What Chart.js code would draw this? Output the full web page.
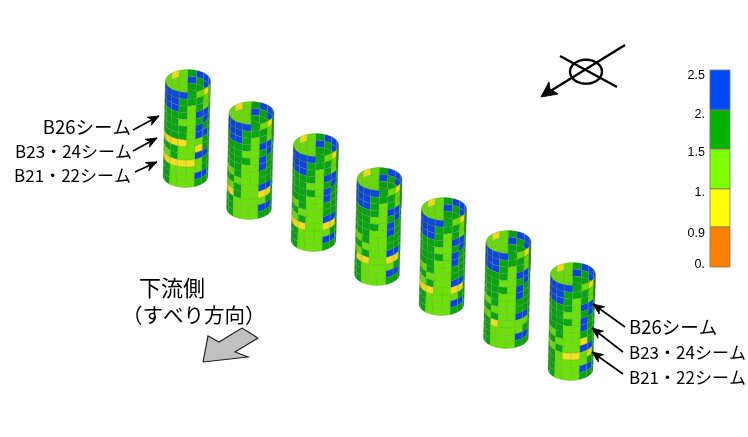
<!DOCTYPE html>
<html>
<head>
<meta charset="utf-8">
<style>html,body{margin:0;padding:0;background:#fff}canvas{display:block;filter:blur(.45px)}</style>
<script src="https://cdn.jsdelivr.net/npm/chart.js@4/dist/chart.umd.min.js"></script>
</head>
<body>
<canvas id="c" width="748" height="437"></canvas>
<script>
// colour bar
const scaleTicks = ['2.5','2.','1.5','1.','0.9','0.'];
const scaleBreaks = [2.5,2,1.5,1,0.9,0];
const scaleColors = ['#0048f8','#00b400','#7cff00','#ffff00','#ff8000'];
const wallColors = {2.25:'#0a48e6',1.75:'#06a812',1.25:'#68e404',0.95:'#f4e41c',0.5:'#ff8000'};
const letterValue = {B:2.25,G:1.75,L:1.25,Y:0.95,O:0.5};

// safety-factor class of each wall cell, seen from the front (top row first, left to right)
const pile1 = ['BBBBGLYL','BBBGGGLL','BBBGLGLL','GGGGLBBG','GGGLLGBG','GGGGLBGG','GGGGLBBG','YYYYLLGG','GGGLLYGG','LLGLLBBG','YYYYYLGG','GGLLLLGG','GGLLLBBG','GGLLLGGG'];
const pile2 = ['BBBBGLYG','BBBGGGLG','GBBGLGLG','GGGGLBBG','GGGLLGBG','GGGGLBGG','GGGLLBGG','LLGLLGGG','GGLLLGGG','LLGLLBBG','YYGLLYYG','GGLLLLGG','GGLLLBBG','GGLLLGGG'];
const pile3 = ['BBBBGLYG','BBBGGGLG','BBBGLGLG','GGGGLBBG','GGGLLGBG','GGGGLBGG','GGGLLBGG','LLGLLGGG','GGLLLGGG','LLGLLBBG','YYYLLYYG','GGLLLLGG','GGLLLBBG','GGLLLGGG'];
const pile4 = ['BBBBGLYG','BBBGGGLG','BBBGLGLG','GGGGLBBG','GGGLLGBG','GGGGLBGG','GGGLLBGG','LLGLLGGG','GGLLLGGG','LLGLLBBG','GYYLLYYG','GGLLLLGG','GGLLLBBG','GGLLLGGG'];
const pile5 = ['BBBBGLYG','BBBGGGLG','BBBGLGLG','GGGGLBBG','GGGLLGBG','GGGGLBGG','GGGLLBGG','LLGLLGGG','GGLLLGGG','LLGLLBBG','YYYLLYYG','GGLLLLGG','GGLLLBBG','GGLLLGGG'];
const pile6 = ['BBBBGLYG','BBBGGGLG','BBBGLGLG','GGGGLBBG','GGGLLGBG','GGGGLBGG','GGGLLBGG','LLGLLGGG','GGLLLGGG','LLGLLBBG','GGYLLLLG','GGLLLLGG','GGLLLBBG','GGLLLGGG'];
const pile7 = ['BBBBGLYG','BBBGGGLG','BBBGLGLG','GGGGLBBG','GGGLLGBG','GGGGLBGG','GGGLLBGG','LLGLLGGG','GGLLLYGG','LLGLLBBG','GGLYYLYG','GGLLLLGG','GGLLLBBG','GGLLLGGG'];
const piles = [pile1,pile2,pile3,pile4,pile5,pile6,pile7];
// inside of the far wall (top rows only are visible)
const farWall = ['LLYLGBBB','LLLLBGBB','LLLLGGGB','LLLLGGGB'];

// placement
const pileTops = [[188,81],[251.5,113],[316,145],[379.5,179],[444,209],[508.5,242],[573,274]];
const pileRx = 22.5, pileRy = 11.5, pileH = 95, pileLean = -2.5;

const labelsSeam = ['B26シーム','B23・24シーム','B21・22シーム'];
const labelSizes = [18.5,17,17];
const leftLabels = [[131,127],[132,152],[131,176]];
const rightLabels = [[629,327],[629,353],[629,378]];
const leftArrows = [[[133,130],[159,116]],[[133,151],[157,138]],[[135,172],[157,162]]];
const rightArrows = [[[625,327],[593,304]],[[623,352],[592,328]],[[623,374],[592,352]]];
const slipArrow = [[203,362],[208,336],[219,342],[242,328],[258,338],[235,352],[248,357],[203,362]];
const compassCentre = [586,71.7], compassRadii = [16,12];
const compassArrow = [[[625,45],[544,95]],[[560,56],[617,87]]];
const compassHead = [[541,97],[549,82],[550,89],[558,94],[541,97]];
const barX = [710,730];
const barY = {2.5:70,2:110,1.5:149,1:189,0.9:227,0:267};
const tickY = [76,115,153,193,234,265];

function shade(hex,f){
  const n=parseInt(hex.slice(1),16);
  return 'rgb('+[n>>16&255,n>>8&255,n&255].map(v=>Math.round(v*f)).join(',')+')';
}
function wallPt(pos,th,row){
  const t=row/14;
  return {x:pos[0]+pileLean*t-pileRx*Math.cos(th), y:pos[1]+pileH*t+pileRy*Math.sin(th)};
}
const exact=1e-4; // tiny tension keeps the line element from merging nearby points
function cell(pos,th0,th1,r0,r1,color){
  const n=4,pts=[];
  for(let i=0;i<=n;i++) pts.push(wallPt(pos,th0+(th1-th0)*i/n,r0));
  for(let i=n;i>=0;i--) pts.push(wallPt(pos,th0+(th1-th0)*i/n,r1));
  pts.push(pts[0]);
  return {data:pts,showLine:true,fill:'shape',backgroundColor:color,borderColor:'rgba(125,130,80,.5)',borderWidth:.5,pointRadius:0,tension:exact};
}
function stroke(pts,w,col,fillCol){
  return {data:pts.map(p=>({x:p[0],y:p[1]})),showLine:true,fill:fillCol?'shape':false,backgroundColor:fillCol||'transparent',borderColor:col,borderWidth:w,pointRadius:0,tension:exact};
}
function head(a,b,len,wid){
  const dx=b[0]-a[0],dy=b[1]-a[1],d=Math.hypot(dx,dy),ux=dx/d,uy=dy/d;
  const bx=b[0]-ux*len,by=b[1]-uy*len;
  return [b,[bx-uy*wid,by+ux*wid],[b[0]-ux*len*.7,b[1]-uy*len*.7],[bx+uy*wid,by-ux*wid],b];
}

const ds=[];
const step=Math.PI/8;
pileTops.forEach((pos,p)=>{
  farWall.forEach((row,r)=>{
    [...row].forEach((ch,c)=>{
      const col=shade(wallColors[letterValue[ch]],.96);
      ds.push(cell(pos,-c*step,-(c+1)*step,r,r+1,col));
    });
  });
  piles[p].forEach((row,r)=>{
    [...row].forEach((ch,c)=>{
      const th=(c+.5)*step;
      const col=shade(wallColors[letterValue[ch]],.88+.12*Math.sin(th));
      ds.push(cell(pos,c*step,(c+1)*step,r,r+1,col));
    });
  });
});
// colour bar cells
scaleColors.forEach((col,i)=>{
  const y0=barY[scaleBreaks[i]],y1=barY[scaleBreaks[i+1]];
  ds.push(stroke([[barX[0],y0],[barX[1],y0],[barX[1],y1],[barX[0],y1],[barX[0],y0]],.8,'#777',col));
});
leftArrows.concat(rightArrows).forEach(a=>{
  ds.push(stroke(a,1.6,'#000'));
  ds.push(stroke(head(a[0],a[1],11,4.5),1,'#000','#000'));
});
ds.push(stroke(slipArrow,1.2,'#222','#c0c0c0'));
compassArrow.forEach(a=>ds.push(stroke(a,2.4,'#000')));
ds.push(stroke(compassHead,1,'#000','#000'));
const ring=[];
for(let i=0;i<=48;i++){const t=i/48*2*Math.PI;ring.push([compassCentre[0]+compassRadii[0]*Math.cos(t),compassCentre[1]+compassRadii[1]*Math.sin(t)]);}
ds.push(stroke(ring,2.4,'#000'));

const textPlugin={id:'texts',afterDatasetsDraw(chart){
  const c=chart.ctx,X=chart.scales.x,Y=chart.scales.y;
  const put=(s,x,y,font,al)=>{c.font=font;c.textAlign=al||'left';c.textBaseline='middle';c.fillStyle='#000';c.fillText(s,X.getPixelForValue(x),Y.getPixelForValue(y));};
  const jp='"Noto Sans CJK JP","Noto Sans"';
  c.save();
  labelsSeam.forEach((s,i)=>{
    put(s,leftLabels[i][0],leftLabels[i][1],labelSizes[i]+'px '+jp,'right');
    put(s,rightLabels[i][0],rightLabels[i][1],labelSizes[i]+'px '+jp,'left');
  });
  put('下流側',139,288,'22px '+jp);
  put('（すべり方向）',122,315,'20.5px '+jp);
  scaleTicks.forEach((s,i)=>put(s,705,tickY[i],'12.5px "Liberation Sans"','right'));
  c.restore();
}};

new Chart(document.getElementById('c'),{
  type:'scatter',
  data:{datasets:ds.slice().reverse()},
  options:{
    responsive:false,animation:false,
    layout:{padding:0},
    plugins:{legend:{display:false},tooltip:{enabled:false}},
    events:[],
    scales:{
      x:{type:'linear',display:false,min:0,max:748},
      y:{type:'linear',display:false,min:0,max:437,reverse:true}
    }
  },
  plugins:[textPlugin]
});
</script>
</body>
</html>
